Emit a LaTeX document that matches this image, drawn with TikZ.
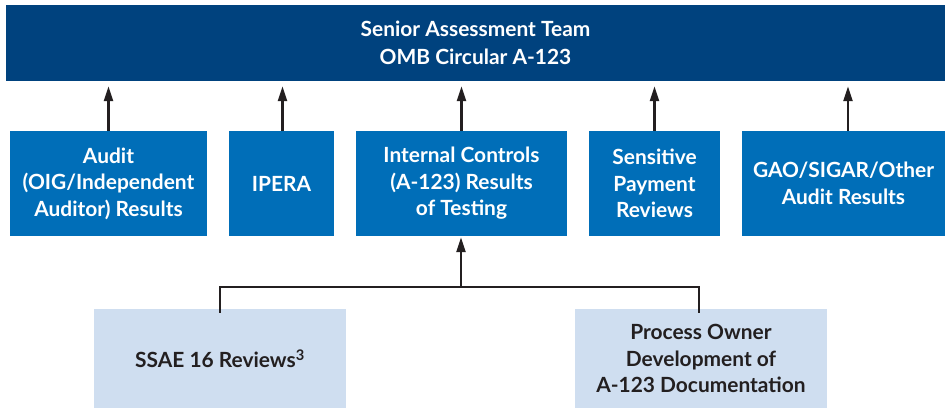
\documentclass[tikz,border=0pt]{standalone}
\usepackage{fontspec}
\setmainfont{Lato}
\usetikzlibrary{arrows.meta}
\definecolor{navy}{HTML}{00427E}
\definecolor{midblue}{HTML}{006EB8}
\definecolor{lightblue}{HTML}{CFDEF0}
\definecolor{ink}{HTML}{231F20}
\tikzset{
  box/.style={rectangle, inner sep=0pt, align=center, font=\bfseries\fontsize{21}{26.5}\selectfont},
  topbox/.style={box, fill=navy, text=white, font=\bfseries\fontsize{21}{28}\selectfont},
  midbox/.style={box, fill=midblue, text=white, minimum height=105bp},
  lowbox/.style={box, fill=lightblue, text=ink, minimum height=99bp, minimum width=252bp},
  conn/.style={draw=ink, line width=2.3bp},
  arr/.style={conn, -{Stealth[length=15bp, width=9bp, inset=0pt]}},
}
\begin{document}
\begin{tikzpicture}[x=1bp, y=-1bp]
\useasboundingbox (0,0) rectangle (945,408);
\node[topbox, minimum width=939bp, minimum height=76bp] (top) at (475.5,43) {Senior Assessment Team\\OMB Circular A-123};
\node[midbox, minimum width=197bp] (b1) at (108.5,183.5) {Audit\\(OIG/Independent\\Auditor) Results};
\node[midbox, minimum width=105bp] (b2) at (281.5,183.5) {IPERA};
\node[midbox, minimum width=211bp] (b3) at (461.5,183.5) {Internal Controls\\(A-123) Results\\of Testing};
\node[midbox, minimum width=131bp] (b4) at (654.5,183.5) {Sensitive\\Payment\\Reviews};
\node[midbox, minimum width=203bp] (b5) at (843.5,183.5) {GAO/SIGAR/Other\\Audit Results};
\node[lowbox] (b6) at (220,358.5) {SSAE 16 Reviews\textsuperscript{3}};
\node[lowbox] (b7) at (701,358.5) {Process Owner\\Development of\\A-123 Documentation};
\foreach \b/\dx in {b1/0, b2/1, b3/0, b4/0, b5/4.5}{
  \draw[arr, shorten >=5bp] ([xshift=\dx bp]\b.north) -- ([xshift=\dx bp]\b.north |- top.south);
}
\coordinate (br) at (461,287);
\coordinate (bl) at (220,287);
\coordinate (brr) at (699,287);
\draw[conn, line cap=rect] ([yshift=-3bp]bl |- b6.north) -- (bl) -- (brr) -- ([yshift=-3bp]brr |- b7.north);
\draw[arr, shorten >=1bp] (br) -- (br |- b3.south);
\end{tikzpicture}
\end{document}
